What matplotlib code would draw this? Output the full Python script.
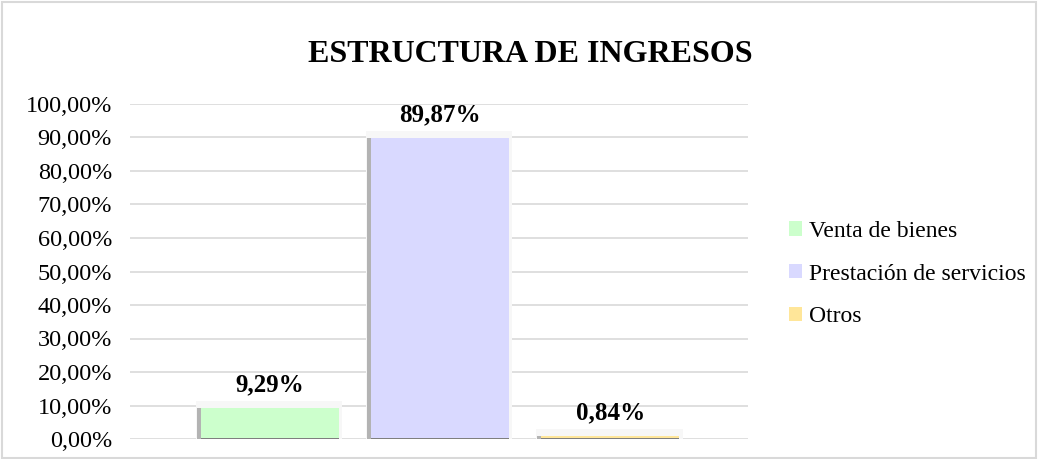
import matplotlib.pyplot as plt
from matplotlib.patches import Patch

categories = ['Venta de bienes', 'Prestación de servicios', 'Otros']
values = [9.29, 89.87, 0.84]
labels = ['9,29%', '89,87%', '0,84%']
colors = ['#ccffcc', '#d9d9ff', '#ffe699']
yticks = list(range(0, 101, 10))

plt.rcParams['font.family'] = ['Liberation Serif', 'DejaVu Serif']

fig = plt.figure(figsize=(10.38, 4.59), dpi=100)
ax = fig.add_axes([130 / 1038, 20 / 459, 618 / 1038, 335 / 459])

x = list(range(len(values)))
w = 0.81

# soft glow + shadow behind bars
ax.bar([i - 0.005 for i in x], [v + 2 for v in values], width=w + 0.05,
       color='#f7f7f7', zorder=2)
ax.bar([i - w / 2 - 0.012 for i in x], values, width=0.025,
       color='#b3b3b3', zorder=3)
ax.bar(x, values, width=w, color=colors, zorder=4,
       edgecolor='none')
ax.bar(x, [0.35] * 3, width=w, color='#7f7f7f', zorder=5)

for i, (v, lab) in enumerate(zip(values, labels)):
    ax.text(i, v + 3.5, lab, ha='center', va='bottom', fontsize=18,
            fontweight='bold', zorder=6)

ax.set_xlim(-0.824, 2.81)
ax.set_ylim(0, 100)
ax.set_yticks(yticks)
ax.set_yticklabels(['%d,00%%' % t for t in yticks], fontsize=17.5)
ax.set_xticks([])
ax.yaxis.grid(True, color='#d9d9d9', linewidth=1.2, zorder=0)
ax.tick_params(axis='y', length=0, pad=13)
for s in ax.spines.values():
    s.set_visible(False)

fig.text(530 / 1038, 1 - 55 / 459, 'ESTRUCTURA DE INGRESOS', ha='center',
         va='center', fontsize=23, fontweight='bold')

handles = [Patch(facecolor=c, edgecolor='none') for c in colors]
fig.legend(handles, categories, loc='center left',
           bbox_to_anchor=(768 / 1038, 1 - 274 / 459), frameon=False,
           fontsize=17, handlelength=0.55, handleheight=0.55,
           handletextpad=0.3, labelspacing=0.92)

border = plt.Rectangle((0.002, 0.002), 0.996, 0.994, transform=fig.transFigure,
                       fill=False, edgecolor='#d9d9d9', linewidth=1.5)
fig.patches.append(border)

fig.savefig('out.png', dpi=100)
